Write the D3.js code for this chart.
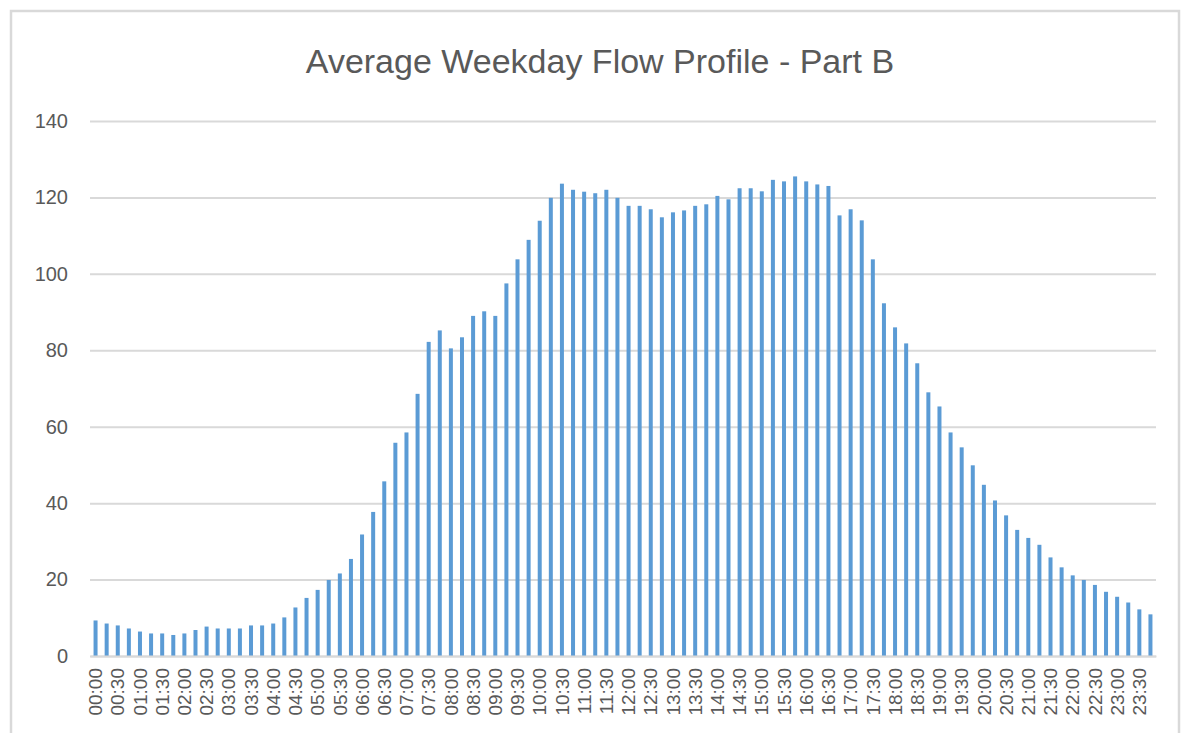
<!DOCTYPE html>
<html>
<head>
<meta charset="utf-8">
<script src="https://cdn.jsdelivr.net/npm/d3@7"></script>
<style>
	body { margin: 0; background: #fff; }
	svg text { font-family: "Liberation Sans", Arial, sans-serif; fill: #595959; }
</style>
</head>
<body>
<div class="chart"></div>
<script>
// 15 minute slots, 00:00 to 23:45
var times = d3.range(96).map(function(i) {
	var h = Math.floor(i / 4), m = (i % 4) * 15;
	return (h < 10 ? "0" : "") + h + ":" + (m < 10 ? "0" : "") + m;
});

var flows = [
	9.3, 8.5, 8.0, 7.2, 6.4, 5.9, 5.9, 5.5,
	5.9, 6.8, 7.7, 7.2, 7.2, 7.2, 8.0, 8.0,
	8.5, 10.1, 12.7, 15.2, 17.3, 19.9, 21.6, 25.4,
	31.8, 37.7, 45.7, 55.8, 58.5, 68.6, 82.2, 85.2,
	80.5, 83.4, 89.0, 90.2, 89.0, 97.5, 103.8, 108.9,
	113.9, 119.9, 123.6, 122.0, 121.5, 121.1, 122.0, 119.9,
	117.8, 117.8, 116.9, 114.8, 116.1, 116.6, 117.8, 118.2,
	120.4, 119.5, 122.4, 122.4, 121.6, 124.6, 124.2, 125.5,
	124.2, 123.4, 123.0, 115.3, 116.9, 114.0, 103.8, 92.3,
	86.0, 81.8, 76.6, 69.0, 65.3, 58.5, 54.6, 49.9,
	44.8, 40.7, 36.8, 33.0, 30.9, 29.1, 25.8, 23.2,
	21.1, 19.9, 18.6, 16.8, 15.5, 14.0, 12.2, 10.9
];

var yTicks = [0, 20, 40, 60, 80, 100, 120, 140];
var title = "Average Weekday Flow Profile - Part B";

var width = 1186,
	height = 733,
	margin = {top: 121, right: 30, bottom: 77, left: 90};

var svg = d3.select(".chart").append("svg")
	.attr("width", width)
	.attr("height", height);

// outer chart border
svg.append("rect")
	.attr("x", 11)
	.attr("y", 11)
	.attr("width", 1168)
	.attr("height", 740)
	.attr("fill", "none")
	.attr("stroke", "#d9d9d9")
	.attr("stroke-width", 2.5);

svg.append("text")
	.attr("x", 600)
	.attr("y", 73)
	.attr("text-anchor", "middle")
	.style("font-size", "34px")
	.text(title);

var x = d3.scaleBand()
	.domain(times)
	.range([margin.left, width - margin.right])
	.paddingInner(0.64)
	.paddingOuter(0.32);

var y = d3.scaleLinear()
	.domain([0, 140])
	.range([height - margin.bottom, margin.top]);

// gridlines
var yAxis = svg.append("g")
	.attr("transform", "translate(" + margin.left + ",0)")
	.call(d3.axisLeft(y)
		.tickValues(yTicks)
		.tickSize(-(width - margin.right - margin.left))
		.tickPadding(22));

yAxis.select(".domain").remove();
yAxis.selectAll(".tick line")
	.attr("stroke", "#d9d9d9")
	.attr("stroke-width", 2);
yAxis.selectAll(".tick text")
	.style("font-size", "20px")
	.style("font-family", "'Liberation Sans', Arial, sans-serif")
	.attr("fill", "#595959");

svg.selectAll(".bar")
	.data(flows)
	.enter().append("rect")
	.attr("class", "bar")
	.attr("x", function(d, i) { return x(times[i]); })
	.attr("y", function(d) { return y(d); })
	.attr("width", x.bandwidth())
	.attr("height", function(d) { return y(0) - y(d); })
	.attr("fill", "#5b9bd5");

// x axis with labels every 30 minutes
var xAxis = svg.append("g")
	.attr("transform", "translate(0," + y(0) + ")")
	.call(d3.axisBottom(x)
		.tickValues(times.filter(function(d, i) { return i % 2 == 0; }))
		.tickSize(0));

xAxis.select(".domain")
	.attr("stroke", "#d9d9d9")
	.attr("stroke-width", 2);

xAxis.selectAll(".tick text")
	.style("font-size", "19px")
	.style("font-family", "'Liberation Sans', Arial, sans-serif")
	.attr("fill", "#595959")
	.attr("transform", "rotate(-90)")
	.attr("text-anchor", "end")
	.attr("x", -12)
	.attr("y", 0)
	.attr("dy", "0.35em");
</script>
</body>
</html>
